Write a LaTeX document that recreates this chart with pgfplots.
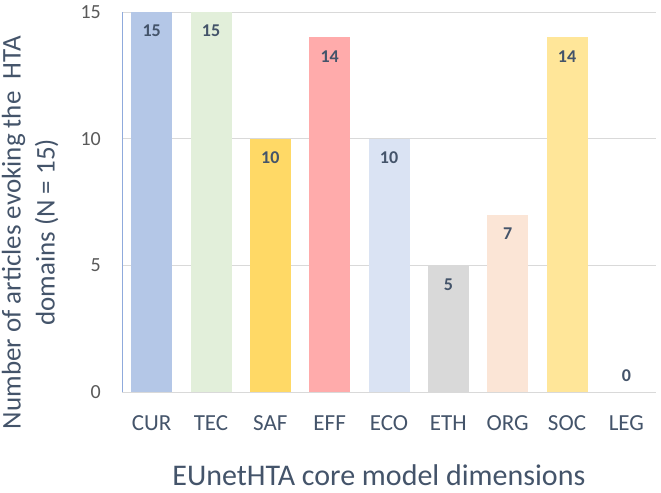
\documentclass[border=0pt]{standalone}
\usepackage{pgfplots}
\pgfplotsset{compat=1.18}
\usepackage{fontspec}
\setmainfont{Carlito}
\definecolor{cCUR}{HTML}{B4C7E7}
\definecolor{cTEC}{HTML}{E2EFDA}
\definecolor{cSAF}{HTML}{FFD966}
\definecolor{cEFF}{HTML}{FFABAB}
\definecolor{cECO}{HTML}{DAE3F3}
\definecolor{cETH}{HTML}{D9D9D9}
\definecolor{cORG}{HTML}{FBE5D6}
\definecolor{cSOC}{HTML}{FFE699}
\definecolor{slate}{HTML}{44546A}
\definecolor{tickgray}{HTML}{595959}
\definecolor{gridgray}{HTML}{D9D9D9}
\definecolor{axblue}{HTML}{8FAADC}
\begin{document}
\begin{tikzpicture}
\begin{axis}[
  scale only axis,
  width=534bp, height=380bp,
  xmin=-0.5, xmax=8.5,
  ymin=0, ymax=15,
  ytick={0,5,10,15},
  xtick={0,1,2,3,4,5,6,7,8},
  xticklabels={CUR,TEC,SAF,EFF,ECO,ETH,ORG,SOC,LEG},
  axis lines*=left,
  x axis line style={draw=gridgray, line width=0.8pt},
  y axis line style={draw=axblue, line width=0.8pt},
  major tick length=0pt,
  ymajorgrids,
  grid style={draw=gridgray, line width=0.6pt},
  /pgf/number format/assume math mode=true,
  yticklabel style={font=\fontsize{20bp}{24bp}\selectfont, text=tickgray, inner sep=0pt, anchor=east, xshift=-21bp},
  xticklabel style={font=\fontsize{23bp}{28bp}\selectfont, text=slate, inner sep=0pt, anchor=base, yshift=-38bp},
  xlabel={EUnetHTA core model dimensions},
  xlabel style={font=\fontsize{30bp}{34bp}\selectfont, text=slate, inner sep=0pt, at={(axis description cs:0.481,0)}, anchor=base, yshift=-93bp},
  ylabel={Number of articles evoking the\ \ HTA\\domains (N = 15)},
  ylabel style={font=\fontsize{27bp}{34bp}\selectfont, text=slate, align=center, inner sep=0pt, at={(axis description cs:-0.172,0.42)}, anchor=center},
  ybar, bar width=41bp, bar shift=0pt,
  nodes near coords,
  nodes near coords style={font=\fontsize{18bp}{21bp}\selectfont\bfseries, text=slate, anchor=center, yshift=-19bp},
  clip=false,
]
\addplot[fill=cCUR, draw=none] coordinates {(0,15)};
\addplot[fill=cTEC, draw=none] coordinates {(1,15)};
\addplot[fill=cSAF, draw=none] coordinates {(2,10)};
\addplot[fill=cEFF, draw=none] coordinates {(3,14)};
\addplot[fill=cECO, draw=none] coordinates {(4,10)};
\addplot[fill=cETH, draw=none] coordinates {(5,5)};
\addplot[fill=cORG, draw=none] coordinates {(6,7)};
\addplot[fill=cSOC, draw=none] coordinates {(7,14)};
\addplot[fill=none, draw=none, nodes near coords style={yshift=35bp}] coordinates {(8,0)};
\end{axis}
\pgfresetboundingbox
\path[use as bounding box] ([xshift=-122bp,yshift=-100bp]current axis.south west) rectangle ([xshift=5bp,yshift=12bp]current axis.north east);
\end{tikzpicture}
\end{document}
